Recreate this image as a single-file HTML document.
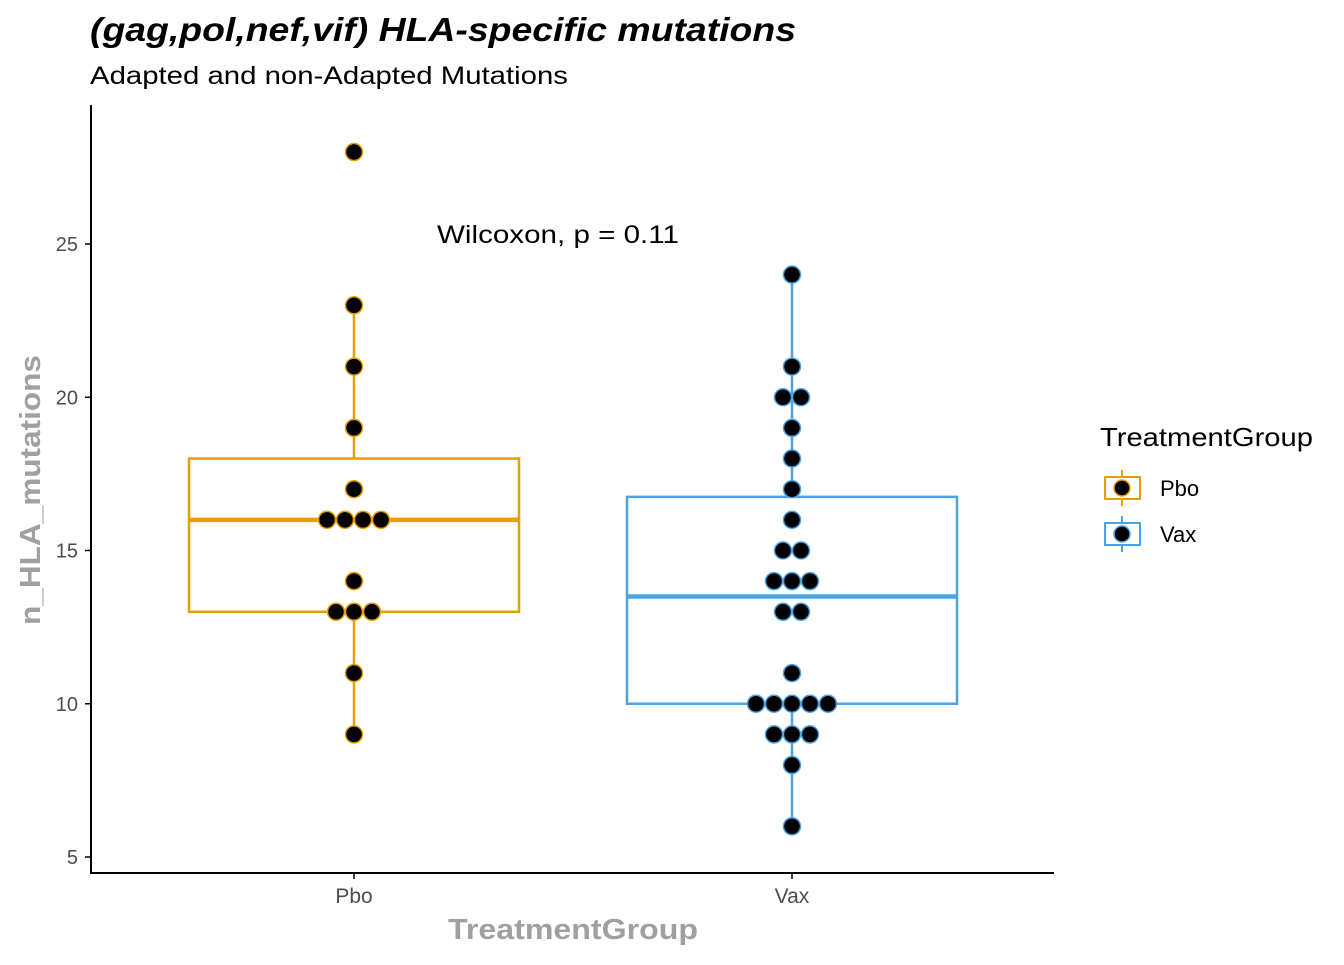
<!DOCTYPE html>
<html><head><meta charset="utf-8"><style>
body{margin:0;background:#fff;font-family:"Liberation Sans",sans-serif}
</style></head><body>
<svg width="1344" height="960" xmlns="http://www.w3.org/2000/svg" font-family="Liberation Sans, sans-serif">
<text x="90" y="41" font-size="33" font-weight="bold" font-style="italic" textLength="706" lengthAdjust="spacingAndGlyphs">(gag,pol,nef,vif) HLA-specific mutations</text>
<text x="90" y="84" font-size="25" textLength="478" lengthAdjust="spacingAndGlyphs">Adapted and non-Adapted Mutations</text>
<g id="plot"></g>
<line x1="91" y1="105" x2="91" y2="873" stroke="#000" stroke-width="2"/>
<line x1="90" y1="873" x2="1054" y2="873" stroke="#000" stroke-width="2"/>
<text x="437" y="243" font-size="25" textLength="242" lengthAdjust="spacingAndGlyphs">Wilcoxon, p = 0.11</text>
<text x="448" y="939" font-size="29" font-weight="bold" fill="#a0a0a0" textLength="250" lengthAdjust="spacingAndGlyphs">TreatmentGroup</text>
<text transform="translate(40,625) rotate(-90)" font-size="29" font-weight="bold" fill="#a0a0a0" textLength="270" lengthAdjust="spacingAndGlyphs">n_HLA_mutations</text>
<text x="1100" y="446" font-size="26" textLength="213" lengthAdjust="spacingAndGlyphs">TreatmentGroup</text>
<g>
<line x1="1122" y1="470" x2="1122" y2="506" stroke="#E69F00" stroke-width="2"/>
<rect x="1105" y="477" width="35" height="22" fill="#fff" stroke="#E69F00" stroke-width="2"/>
<circle cx="1122" cy="488" r="8" fill="#000" stroke="#E69F00" stroke-width="1.5"/>
<text x="1160" y="496" font-size="22">Pbo</text></g>
<g>
<line x1="1122" y1="516" x2="1122" y2="552" stroke="#4BA3E3" stroke-width="2"/>
<rect x="1105" y="523" width="35" height="22" fill="#fff" stroke="#4BA3E3" stroke-width="2"/>
<circle cx="1122" cy="534" r="8" fill="#000" stroke="#4BA3E3" stroke-width="1.5"/>
<text x="1160" y="542" font-size="22">Vax</text></g>
</svg>
<script>
const categories=["Pbo","Vax"];
const colors=["#E69F00","#4BA3E3"];
const pboValues=[28,23,21,19,17,16,16,16,16,14,13,13,13,11,9];
const vaxValues=[24,21,20,20,19,18,17,16,15,15,14,14,14,13,13,11,10,10,10,10,10,9,9,9,8,6];
const boxStats=[[9,13,16,18,23],[6,10,13.5,16.75,24]];
const yTicks=[5,10,15,20,25];
const NS="http://www.w3.org/2000/svg";
const g=document.getElementById("plot");
const y=v=>857-(v-5)*30.65;
const x=i=>354+i*438;
function mk(t,a,p){const e=document.createElementNS(NS,t);for(const k in a)e.setAttribute(k,a[k]);(p||g).appendChild(e);return e;}
yTicks.forEach(t=>{
 const l=mk("line",{x1:85,x2:91,y1:y(t),y2:y(t),stroke:"#000","stroke-width":1.5});
 
 
 const tx=mk("text",{x:78,y:y(t)+7,"font-size":20,fill:"#4d4d4d","text-anchor":"end"});tx.textContent=t;
 
 
});
categories.forEach((c,i)=>{
 const l=mk("line",{x1:x(i),x2:x(i),y1:873,y2:879,stroke:"#000","stroke-width":1.5});
 
 
 const tx=mk("text",{x:x(i),y:903,"font-size":21,fill:"#4d4d4d","text-anchor":"middle"});tx.textContent=c;
 
 
 const s=boxStats[i],col=colors[i];
 const w=mk("line",{x1:x(i),x2:x(i),y1:y(s[0]),y2:y(s[4]),stroke:col,"stroke-width":2.5});
 
 
 const b=mk("rect",{x:x(i)-165,y:y(s[3]),width:330,height:y(s[1])-y(s[3]),fill:"#fff",stroke:col,"stroke-width":2.5});
 
 
 const m=mk("line",{x1:x(i)-165,x2:x(i)+165,y1:y(s[2]),y2:y(s[2]),stroke:col,"stroke-width":4.5});
 
 
 const vals=i===0?pboValues:vaxValues;
 const counts={};vals.forEach(v=>counts[v]=(counts[v]||0)+1);
 Object.keys(counts).forEach(v=>{const n=counts[v];for(let k=0;k<n;k++){
  const d=mk("circle",{cx:x(i)+(k-(n-1)/2)*18,cy:y(+v),r:8.5,fill:"#000",stroke:col,"stroke-width":1.5});
  
  
 }});
});
</script>
</body></html>
